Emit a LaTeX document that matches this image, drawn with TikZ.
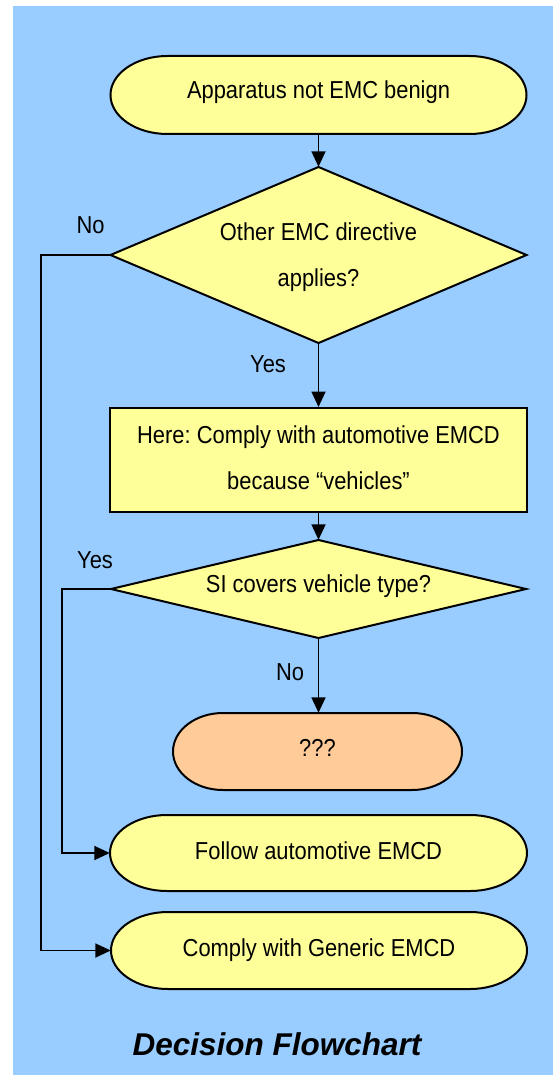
\documentclass[tikz,border=0pt]{standalone}
\usepackage{fontspec}
\setmainfont{Liberation Sans}
\usetikzlibrary{arrows.meta}
\definecolor{bg}{HTML}{99CCFF}
\definecolor{yel}{HTML}{FFFF99}
\definecolor{org}{HTML}{FFCC99}
\frenchspacing
\newcommand{\stt}[1]{\scalebox{1}[1.12]{#1}}
% terminator outline: cx, cy, w, h, rx, fill
\newcommand{\termshape}[6]{%
  \filldraw[outline, fill=#6] ({#1-#3/2+#5},{#2-#4/2}) -- ({#1+#3/2-#5},{#2-#4/2})
    arc[start angle=-90, end angle=90, x radius=#5, y radius=#4/2]
    -- ({#1-#3/2+#5},{#2+#4/2})
    arc[start angle=90, end angle=270, x radius=#5, y radius=#4/2] -- cycle;}
% diamond outline: cx, cy, w, h
\newcommand{\diashape}[4]{%
  \filldraw[outline, fill=yel] ({#1},{#2-#4/2}) -- ({#1+#3/2},{#2}) -- ({#1},{#2+#4/2}) -- ({#1-#3/2},{#2}) -- cycle;}
\begin{document}
\begin{tikzpicture}[x=1pt,y=-1pt,
  outline/.style={draw=black, line width=2pt},
  txt/.style={inner sep=0pt, font=\fontsize{21.9}{45.5}\selectfont, align=center},
  conn/.style={draw=black, line width=1.8pt, -{Triangle[length=15.5pt,width=14pt]}},
  lbl/.style={inner sep=0pt, anchor=base, font=\fontsize{21.9}{24}\selectfont}]
\useasboundingbox (0,0) rectangle (553,1075);
\fill[white] (0,0) rectangle (553,1075);
\fill[bg] (12.5,6) rectangle (553,1075);

% shapes
\termshape{318.5}{95}{416}{78}{57}{yel}
\node[txt, minimum width=416pt, minimum height=78pt, text height=8pt, text depth=0pt] (start) at (318.5,95) {\stt{Apparatus not EMC benign}};

\diashape{318.5}{255}{416}{176}
\node[txt, minimum width=416pt, minimum height=176pt] (d1) at (318.5,255) {\rule{0pt}{22pt}\stt{Other EMC directive}\\\stt{applies?}};

\node[txt, outline, fill=yel, minimum width=417pt, minimum height=104pt] (rect) at (318.5,460) {\stt{Here: Comply with automotive EMCD}\\\stt{because \textquotedblleft vehicles\textquotedblright}\vphantom{p}};

\diashape{318.5}{589}{415}{98}
\node[txt, minimum width=415pt, minimum height=98pt, text height=7.4pt, text depth=0pt] (d2) at (318.5,589) {\stt{SI covers vehicle type?}};

\termshape{317.5}{751.5}{289}{77}{50}{org}
\node[txt, minimum width=289pt, minimum height=77pt, text height=10pt, text depth=0pt] (q) at (317.5,751.5) {\stt{???}};

\termshape{318.5}{853}{417}{76}{57}{yel}
\node[txt, minimum width=417pt, minimum height=76pt, text height=12pt, text depth=0pt] (follow) at (318.5,853) {\stt{Follow automotive EMCD}};

\termshape{319}{950.5}{416}{77}{57}{yel}
\node[txt, minimum width=416pt, minimum height=77pt, text height=11pt, text depth=0pt] (comply) at (319,950.5) {\stt{Comply with Generic EMCD}};

% connectors
\coordinate (noL) at (40.6,255);
\coordinate (yesL) at (61.7,589);
\draw[conn] (start.south) -- (start.south |- d1.north);
\draw[conn] (d1.south) -- (d1.south |- rect.north);
\draw[conn] (rect.south) -- (rect.south |- d2.north);
\draw[conn] (d2.south) -- (d2.south |- q.north);
\draw[conn] (d1.west) -- (noL) |- (comply.west);
\draw[conn] (d2.west) -- (yesL) |- (follow.west);

% labels
\node[lbl] (lno1) at (90.6,233.3) {\stt{No}};
\node[lbl] (lyes1) at (268,372) {\stt{Yes}};
\node[lbl] (lyes2) at (95,568) {\stt{Yes}};
\node[lbl] (lno2) at (290,680) {\stt{No}};

% title
\node[inner sep=0pt, anchor=base, font=\fontsize{31.5}{34}\selectfont\bfseries\itshape] (title) at (277,1055) {Decision Flowchart};
\end{tikzpicture}
\end{document}
